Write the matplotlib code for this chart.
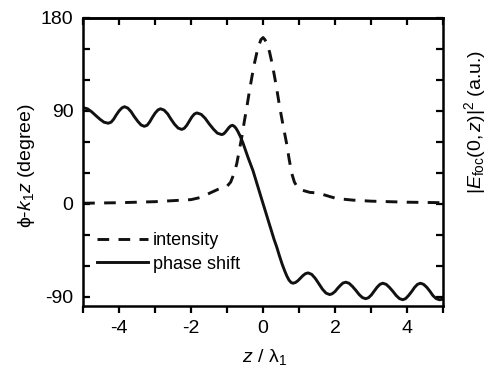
import matplotlib
matplotlib.use("Agg")
import matplotlib.pyplot as plt
from matplotlib.ticker import MultipleLocator

plt.rcParams['font.family'] = ['Liberation Sans', 'DejaVu Sans']
plt.rcParams['mathtext.fontset'] = 'custom'
plt.rcParams['mathtext.rm'] = 'Liberation Sans'
plt.rcParams['mathtext.it'] = 'Liberation Sans:italic'
plt.rcParams['axes.unicode_minus'] = False

# phase shift (degree) vs z / lambda_1
phase_z = [-5.00, -4.88, -4.77, -4.65, -4.53, -4.42, -4.30,
           -4.22, -4.15, -4.08, -4.00, -3.92, -3.85,
           -3.76, -3.67, -3.58, -3.48, -3.39, -3.30,
           -3.22, -3.15, -3.08, -3.00, -2.92, -2.85,
           -2.75, -2.65, -2.56, -2.46, -2.36, -2.26,
           -2.19, -2.12, -2.05, -1.98, -1.91, -1.84,
           -1.72, -1.61, -1.50, -1.38, -1.27, -1.15,
           -1.10, -1.05, -1.00, -0.95, -0.90, -0.85,
           -0.80, -0.75, -0.70, -0.63, -0.56, -0.49, -0.42, -0.35, -0.28,
           -0.21, -0.14, -0.07, 0.00, 0.08, 0.15, 0.23, 0.30, 0.38, 0.45,
           0.53, 0.60, 0.66, 0.72, 0.78, 0.83,
           0.90, 0.97, 1.04, 1.11, 1.18, 1.25,
           1.35, 1.45, 1.55, 1.65, 1.75, 1.85,
           1.92, 2.00, 2.07, 2.15, 2.22, 2.30,
           2.39, 2.48, 2.58, 2.67, 2.76, 2.85,
           2.93, 3.01, 3.09, 3.17, 3.25, 3.33,
           3.42, 3.51, 3.61, 3.70, 3.79, 3.88,
           3.96, 4.04, 4.13, 4.21, 4.29, 4.37,
           4.46, 4.55, 4.64, 4.72, 4.81, 4.90, 5.00]
phase_deg = [93, 92, 89.3, 85.5, 81.8, 79, 78,
             79.1, 82, 86, 90, 92.9, 94,
             92.7, 89.3, 84.5, 79.8, 76.3, 75,
             76.1, 79.3, 83.5, 87.8, 90.9, 92,
             90.7, 87, 82, 77, 73.3, 72,
             73.1, 76, 80, 84, 86.9, 88,
             86.6, 82.8, 77.5, 72.3, 68.4, 67,
             67.6, 69.3, 71.5, 73.8, 75.4, 76,
             75, 73, 70, 65, 59, 52, 45, 38.5, 32,
             24, 16, 8, 0, -9, -17, -26, -34, -42, -50,
             -58.5, -65, -70, -74, -76.3, -77,
             -76.3, -74.5, -72, -69.5, -67.7, -67,
             -68.4, -72.3, -77.5, -82.8, -86.6, -88,
             -87.2, -85, -82, -79, -76.8, -76,
             -77.1, -80, -84, -88, -90.9, -92,
             -91, -88.3, -84.5, -80.8, -78, -77,
             -78.1, -81, -85, -89, -91.9, -93,
             -91.9, -89, -85, -81, -78.1, -77,
             -78.1, -81, -85, -89, -91.9, -93, -92.5]

# focal intensity (a.u., drawn on the same scale)
inten_z = [-5.0, -4.0, -3.0, -2.5, -2.0, -1.75, -1.5, -1.25, -1.0, -0.9,
           -0.8, -0.73, -0.66, -0.59, -0.52, -0.45, -0.38, -0.31, -0.24,
           -0.17, -0.11, -0.06, 0.00, 0.05, 0.11, 0.18, 0.25, 0.32, 0.39,
           0.46, 0.55, 0.65, 0.73, 0.80, 0.87, 0.97, 1.1, 1.3, 1.5, 1.66,
           1.85, 2.05, 2.5, 3.0, 4.0, 5.0]
inten_val = [0.5, 1, 2, 3, 4, 6, 10, 14, 17, 21,
             30, 39, 52, 65, 80, 94, 109, 123, 136,
             147, 154, 159, 161, 159, 155, 147, 136, 123, 109,
             94, 77, 59, 42, 29, 21, 15, 13, 11, 10.5, 9,
             7, 5, 3.5, 2.5, 1.5, 1]

fig = plt.figure(figsize=(4.89, 3.74), dpi=100)
ax = fig.add_axes([0.170, 0.182, 0.736, 0.770])

ax.plot(inten_z, inten_val, color='#111', lw=2.1, linestyle=(0, (4, 3.2)),
        label='intensity')
ax.plot(phase_z, phase_deg, color='#111', lw=2.1, solid_joinstyle='round',
        label='phase shift')

ax.set_xlim(-5, 5)
ax.set_ylim(-99, 180)
ax.xaxis.set_major_locator(MultipleLocator(2))
ax.xaxis.set_minor_locator(MultipleLocator(1))
ax.yaxis.set_major_locator(MultipleLocator(90))
ax.yaxis.set_minor_locator(MultipleLocator(30))

for s in ax.spines.values():
    s.set_linewidth(1.8)

ax.tick_params(axis='x', which='both', direction='out', length=5, width=1.6,
               pad=5, labelsize=14)
ax.tick_params(axis='y', which='both', direction='in', length=5, width=1.6,
               pad=7, labelsize=14, left=True, right=True)

# ticks pointing inward on the top
top = ax.secondary_xaxis('top')
top.xaxis.set_major_locator(MultipleLocator(1))
top.tick_params(direction='in', length=5, width=1.6, labeltop=False)
top.spines['top'].set_linewidth(1.8)

# labels
fig.text(27 / 489, 1 - 166 / 374, r'ϕ-$k_1z$ (degree)', rotation=90,
         ha='center', va='center', fontsize=14)
fig.text(475 / 489, 1 - 122 / 374, r'$|E_{\rm foc}(0,z)|^2$ (a.u.)',
         rotation=90, ha='center', va='center', fontsize=14)
fig.text(264 / 489, 1 - 357 / 374, r'$z$ / λ$_1$', ha='center', va='center',
         fontsize=14)

ax.legend(loc='upper left', bbox_to_anchor=(0.039, 0.255), frameon=False,
          fontsize=13, handlelength=2.8, handletextpad=0.3, borderpad=0,
          borderaxespad=0, labelspacing=0.35)

fig.savefig('out.png', dpi=100)
